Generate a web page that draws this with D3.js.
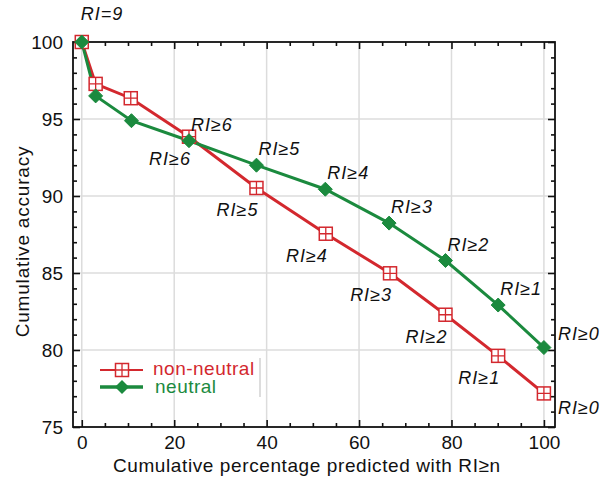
<!DOCTYPE html>
<html>
<head>
<meta charset="utf-8">
<script src="https://cdn.jsdelivr.net/npm/d3@7"></script>
<style>
  body { margin: 0; background: #fff; }
  text { font-family: "Liberation Sans", Arial, sans-serif; }
</style>
</head>
<body>
<script>
// Data
var riLabels = ['RI=9', '', '', 'RI\u22656', 'RI\u22655', 'RI\u22654', 'RI\u22653', 'RI\u22652', 'RI\u22651', 'RI\u22650'];
var pctNonNeutral = [0, 3.0, 10.6, 23.2, 37.8, 52.8, 66.7, 78.7, 90.1, 100];
var accNonNeutral = [100, 97.28, 96.35, 93.85, 90.52, 87.55, 84.98, 82.29, 79.62, 77.18];
var pctNeutral = [0, 3.0, 10.75, 23.2, 37.8, 52.7, 66.5, 78.7, 90.1, 100];
var accNeutral = [100, 96.5, 94.89, 93.59, 92.0, 90.44, 88.24, 85.81, 82.92, 80.16];
var xTicks = [0, 20, 40, 60, 80, 100];
var yTicks = [75, 80, 85, 90, 95, 100];
var seriesNames = ['non-neutral', 'neutral'];

var red = '#d3282e';
var green = '#1b8a3e';

var margin = { top: 42, right: 48, bottom: 51, left: 73 };
var width = 603 - margin.left - margin.right;
var height = 478 - margin.top - margin.bottom;

var svg = d3.select('body').append('svg')
  .attr('width', 603)
  .attr('height', 478)
  .append('g')
  .attr('transform', 'translate(' + margin.left + ',' + margin.top + ')');

var x = d3.scaleLinear().domain([-1.9, 102.4]).range([0, width]);
var y = d3.scaleLinear().domain([75, 100]).range([height, 0]);

// grid
svg.append('g').selectAll('line').data(xTicks).enter().append('line')
  .attr('x1', function (d) { return x(d); }).attr('x2', function (d) { return x(d); })
  .attr('y1', 0).attr('y2', height)
  .attr('stroke', '#dcdcdc').attr('stroke-width', 1.5);
svg.append('g').selectAll('line').data(yTicks.slice(1, -1)).enter().append('line')
  .attr('y1', function (d) { return y(d); }).attr('y2', function (d) { return y(d); })
  .attr('x1', 0).attr('x2', width)
  .attr('stroke', '#dcdcdc').attr('stroke-width', 1.5);

// axes, ticks pointing inward
var xMinor = d3.range(0, 101, 5).filter(function (d) { return xTicks.indexOf(d) < 0; });
var yMinor = d3.range(75, 101, 1).filter(function (d) { return yTicks.indexOf(d) < 0; });

function addAxis(axis, tr, cls) {
  var g = svg.append('g').attr('class', cls).attr('transform', tr).call(axis);
  g.select('.domain').remove();
  g.selectAll('line').attr('stroke', '#111').attr('stroke-width', 1.6);
  g.selectAll('text').style('font-size', '19px').attr('fill', '#111');
  return g;
}

addAxis(d3.axisBottom(x).tickValues(xTicks).tickSize(-7).tickSizeOuter(0).tickPadding(9), 'translate(0,' + height + ')', 'x axis');
addAxis(d3.axisBottom(x).tickValues(xMinor).tickSize(-4).tickSizeOuter(0).tickFormat(''), 'translate(0,' + height + ')', 'x minor');
addAxis(d3.axisTop(x).tickValues(xTicks).tickSize(-7).tickSizeOuter(0).tickFormat(''), 'translate(0,0)', 'x top');
addAxis(d3.axisTop(x).tickValues(xMinor).tickSize(-4).tickSizeOuter(0).tickFormat(''), 'translate(0,0)', 'x top minor');
addAxis(d3.axisLeft(y).tickValues(yTicks).tickSize(-7).tickSizeOuter(0).tickPadding(10), 'translate(0,0)', 'y axis');
addAxis(d3.axisLeft(y).tickValues(yMinor).tickSize(-4).tickSizeOuter(0).tickFormat(''), 'translate(0,0)', 'y minor');
addAxis(d3.axisRight(y).tickValues(yTicks).tickSize(-7).tickSizeOuter(0).tickFormat(''), 'translate(' + width + ',0)', 'y right');
addAxis(d3.axisRight(y).tickValues(yMinor).tickSize(-4).tickSizeOuter(0).tickFormat(''), 'translate(' + width + ',0)', 'y right minor');

svg.append('rect')
  .attr('width', width).attr('height', height)
  .attr('fill', 'none').attr('stroke', '#111').attr('stroke-width', 1.8);

// axis titles
svg.append('text')
  .attr('x', x(50) - 6).attr('y', height + 45)
  .attr('text-anchor', 'middle')
  .style('font-size', '19px').style('letter-spacing', '0.6px').attr('fill', '#111')
  .text('Cumulative percentage predicted with RI\u2265n');
svg.append('text')
  .attr('transform', 'translate(' + (-44) + ',' + (y(87.5) + 7) + ') rotate(-90)')
  .attr('text-anchor', 'middle')
  .style('font-size', '19px').style('letter-spacing', '0.8px').attr('fill', '#111')
  .text('Cumulative accuracy');

// lines
var nonNeutral = pctNonNeutral.map(function (d, i) { return { x: d, y: accNonNeutral[i], label: riLabels[i], i: i }; });
var neutral = pctNeutral.map(function (d, i) { return { x: d, y: accNeutral[i], label: riLabels[i], i: i }; });

var line = d3.line().x(function (d) { return x(d.x); }).y(function (d) { return y(d.y); });

svg.append('path').datum(nonNeutral).attr('d', line)
  .attr('fill', 'none').attr('stroke', red).attr('stroke-width', 3);
svg.append('path').datum(neutral).attr('d', line)
  .attr('fill', 'none').attr('stroke', green).attr('stroke-width', 3);

function squareMarker(sel) {
  sel.append('rect').attr('x', -6.5).attr('y', -6.5).attr('width', 13).attr('height', 13)
    .attr('fill', '#fff').attr('stroke', red).attr('stroke-width', 1.5);
  sel.append('path').attr('d', 'M-6.5,0H6.5M0,-6.5V6.5')
    .attr('stroke', red).attr('stroke-width', 1.3);
}
var diamondPath = 'M0,-7L7,0L0,7L-7,0Z';

svg.append('g').selectAll('g').data(nonNeutral).enter().append('g')
  .attr('transform', function (d) { return 'translate(' + x(d.x) + ',' + y(d.y) + ')'; })
  .call(squareMarker);
svg.append('g').selectAll('path').data(neutral).enter().append('path')
  .attr('d', diamondPath)
  .attr('transform', function (d) { return 'translate(' + x(d.x) + ',' + y(d.y) + ')'; })
  .attr('fill', green).attr('stroke', green).attr('stroke-width', 1);

// RI labels
var last = riLabels.length - 1;
function labelStyle(sel) {
  sel.style('font-size', '18px').style('font-style', 'italic')
    .style('letter-spacing', '1px').attr('fill', '#111');
}
// non-neutral: below left
svg.append('g').selectAll('text').data(nonNeutral.filter(function (d) { return d.label && d.i > 0; })).enter().append('text')
  .attr('x', function (d) { return d.i === last ? x(d.x) + 14 : x(d.x) + 2; })
  .attr('y', function (d) { return d.i === last ? y(d.y) + 21 : y(d.y) + 28; })
  .attr('text-anchor', function (d) { return d.i === last ? 'start' : 'end'; })
  .text(function (d) { return d.label; })
  .call(labelStyle);
// neutral: above right
svg.append('g').selectAll('text').data(neutral.filter(function (d) { return d.label && d.i > 0; })).enter().append('text')
  .attr('x', function (d) { return d.i === last ? x(d.x) + 14 : x(d.x) + 2; })
  .attr('y', function (d) { return d.i === last ? y(d.y) - 8 : y(d.y) - 10; })
  .text(function (d) { return d.label; })
  .call(labelStyle);
// shared first label
svg.append('text')
  .attr('x', x(nonNeutral[0].x) - 1).attr('y', y(nonNeutral[0].y) - 22)
  .text(nonNeutral[0].label)
  .call(labelStyle);

// legend
var legend = svg.append('g').attr('transform', 'translate(' + (100 - margin.left) + ',' + (370 - margin.top) + ')');
seriesNames.forEach(function (name, i) {
  var col = i === 0 ? red : green;
  var row = legend.append('g').attr('transform', 'translate(0,' + (i * 17) + ')');
  row.append('line').attr('x1', 0).attr('x2', 43).attr('y1', 0).attr('y2', 0)
    .attr('stroke', col).attr('stroke-width', i === 0 ? 2 : 3.5);
  var m = row.append('g').attr('transform', 'translate(22,0)');
  if (i === 0) m.call(squareMarker);
  else m.append('path').attr('d', diamondPath).attr('fill', green);
  row.append('text').attr('x', 53 + i * 2).attr('y', i === 0 ? 5 : 6)
    .style('font-size', '19px').style('letter-spacing', '0.5px').attr('fill', col).text(name);
});
legend.append('line').attr('x1', 160).attr('x2', 160).attr('y1', -12).attr('y2', 27)
  .attr('stroke', '#bbb').attr('stroke-width', 1);
</script>
</body>
</html>
